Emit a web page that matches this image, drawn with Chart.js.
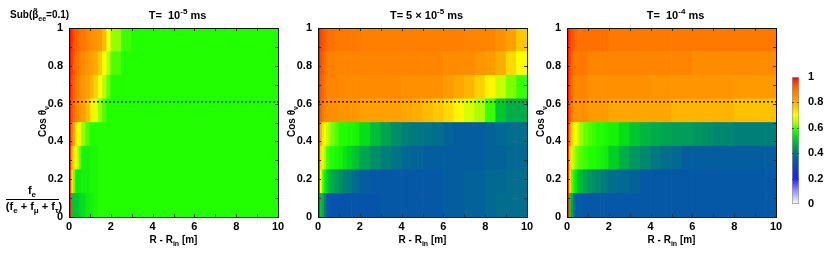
<!DOCTYPE html>
<html>
<head>
<meta charset="utf-8">
<script src="https://cdn.jsdelivr.net/npm/chart.js@4.4.1/dist/chart.umd.min.js"></script>
<style>
  body { margin: 0; background: #fff; }
  #wrap { position: relative; width: 830px; height: 256px; overflow: hidden; }
  canvas { position: absolute; top: 0; }
</style>
</head>
<body>
<div id="wrap">
  <canvas id="p1" width="290" height="256" style="left:0px"></canvas>
  <canvas id="p2" width="290" height="256" style="left:249px"></canvas>
  <canvas id="p3" width="290" height="256" style="left:498px"></canvas>
  <canvas id="cbar" width="50" height="256" style="left:780px"></canvas>
</div>
<script>
// R - R_in bin edges [m]
const rEdges = [0, 0.1, 0.2, 0.3, 0.4, 0.5, 0.6, 0.8, 1.0, 1.2, 1.4, 1.6, 1.8, 2.0,
  2.5, 3, 3.5, 4, 4.5, 5, 5.5, 6, 6.5, 7, 7.5, 8, 8.5, 9, 9.5, 10];
// cos theta bin centres, top row first
const cosMid = [0.9375, 0.8125, 0.6875, 0.5625, 0.4375, 0.3125, 0.1875, 0.0625];
const cutCos = 0.61;

const rep = (v, n) => Array(n).fill(v);

// f_e / (f_e + f_mu + f_tau), T = 1e-5 ms
const fracT1 = [
  [1.0, 0.96, 0.93, 0.92, 0.91, 0.90, 0.89, 0.87, 0.85, 0.84, 0.83, 0.78, 0.70, 0.63, 0.59, ...rep(0.58, 14)],
  [1.0, 0.95, 0.92, 0.90, 0.89, 0.88, 0.86, 0.84, 0.82, 0.80, 0.76, 0.70, 0.65, 0.60, ...rep(0.58, 15)],
  [1.0, 0.94, 0.91, 0.89, 0.88, 0.86, 0.84, 0.82, 0.79, 0.75, 0.70, 0.65, 0.61, ...rep(0.58, 16)],
  [1.0, 0.93, 0.90, 0.88, 0.86, 0.84, 0.82, 0.78, 0.72, 0.68, 0.63, 0.60, ...rep(0.58, 17)],
  [1.0, 0.88, 0.80, 0.72, 0.70, 0.68, 0.63, 0.60, ...rep(0.58, 21)],
  [1.0, 0.78, 0.72, 0.68, 0.64, 0.60, 0.56, 0.56, 0.57, 0.57, ...rep(0.58, 19)],
  [1.0, 0.70, 0.62, 0.55, 0.55, 0.55, 0.56, 0.56, 0.57, 0.57, ...rep(0.58, 19)],
  [1.0, 0.50, 0.50, 0.50, 0.50, 0.52, 0.53, 0.55, 0.56, 0.57, ...rep(0.58, 19)]
];

// T = 5e-5 ms
const fracT2 = [
  [1.0, 0.95, 0.93, 0.92, 0.91, 0.90, 0.90, 0.89, ...rep(0.89, 5), ...rep(0.88, 10), 0.87, 0.87, 0.87, 0.85, 0.82, 0.76],
  [1.0, 0.94, 0.92, 0.90, 0.89, 0.88, 0.88, 0.87, ...rep(0.87, 13), 0.86, 0.86, 0.86, 0.84, 0.83, 0.80, 0.74, 0.70],
  [1.0, 0.93, 0.91, 0.89, 0.88, 0.88, 0.87, 0.87, ...rep(0.86, 9), ...rep(0.85, 4), 0.83, 0.81, 0.79, 0.75, 0.71, 0.66, 0.62, 0.59],
  [1.0, 0.92, 0.89, 0.87, 0.86, 0.86, 0.85, 0.85, ...rep(0.84, 5), ...rep(0.82, 4), 0.81, 0.80, 0.78, 0.76, 0.74, 0.71, 0.67, 0.64, 0.59, 0.50, 0.47, 0.47],
  [1.0, 0.80, 0.73, 0.70, 0.66, 0.64, 0.62, 0.60, 0.58, 0.58, 0.57, 0.57, 0.56, 0.53, 0.49, 0.46, 0.43, 0.41, 0.40, 0.39, 0.38, 0.36, 0.35, 0.35, 0.35, 0.36, 0.37, 0.38, 0.38],
  [1.0, 0.74, 0.68, 0.64, 0.60, 0.59, 0.58, 0.57, 0.56, 0.54, 0.52, 0.50, 0.49, 0.46, 0.43, 0.41, 0.39, 0.37, 0.36, 0.35, 0.35, 0.35, 0.35, 0.35, 0.35, 0.36, 0.36, 0.37, 0.37],
  [1.0, 0.70, 0.60, 0.55, 0.52, 0.49, 0.47, 0.45, 0.43, 0.41, 0.40, 0.38, 0.37, 0.35, 0.34, 0.34, 0.34, 0.34, 0.34, 0.34, 0.34, 0.35, 0.35, 0.36, 0.36, 0.37, 0.37, 0.38, 0.38],
  [1.0, 0.50, 0.47, 0.40, 0.35, 0.33, 0.33, 0.33, 0.33, 0.33, 0.33, 0.33, 0.33, 0.33, 0.33, 0.34, 0.34, 0.34, 0.34, 0.34, 0.34, 0.35, 0.35, 0.36, 0.36, 0.37, 0.38, 0.38, 0.38]
];

// T = 1e-4 ms
const fracT3 = [
  [1.0, 0.95, 0.93, 0.92, 0.91, 0.90, 0.90, 0.90, 0.90, 0.90, 0.90, 0.90, 0.90, ...rep(0.89, 16)],
  [1.0, 0.94, 0.91, 0.89, 0.89, 0.89, 0.89, 0.89, ...rep(0.87, 13), ...rep(0.86, 8)],
  [1.0, 0.93, 0.90, 0.87, 0.87, 0.87, 0.87, 0.87, ...rep(0.85, 9), ...rep(0.84, 8), ...rep(0.83, 4)],
  [1.0, 0.92, 0.88, 0.85, 0.85, 0.85, 0.85, 0.85, ...rep(0.83, 5), ...rep(0.81, 6), ...rep(0.79, 6), ...rep(0.77, 4)],
  [1.0, 0.82, 0.74, 0.71, 0.69, 0.66, 0.63, 0.61, 0.60, 0.59, 0.58, 0.58, 0.57, 0.56, 0.53, 0.50, 0.48, 0.47, 0.46, 0.45, 0.45, 0.44, 0.43, 0.42, 0.42, 0.41, 0.41, 0.41, 0.41],
  [1.0, 0.72, 0.67, 0.64, 0.62, 0.61, 0.60, 0.59, 0.58, 0.58, 0.57, 0.56, 0.55, 0.51, 0.47, 0.44, 0.42, 0.40, 0.38, 0.37, ...rep(0.35, 9)],
  [1.0, 0.70, 0.60, 0.56, 0.54, 0.50, 0.48, 0.46, 0.44, 0.43, 0.42, 0.41, 0.40, 0.38, 0.37, 0.36, ...rep(0.34, 13)],
  [1.0, 0.52, 0.46, 0.38, ...rep(0.34, 25)]
];

// colour map (value, rgb)
const cmapStops = [
  [0.00, [255, 255, 255]], [0.10, [150, 150, 255]], [0.20, [30, 30, 255]],
  [0.27, [15, 60, 200]], [0.34, [5, 88, 165]], [0.40, [0, 120, 128]],
  [0.46, [0, 165, 80]], [0.52, [0, 215, 30]], [0.58, [34, 255, 0]],
  [0.64, [170, 255, 0]], [0.70, [255, 255, 0]], [0.76, [255, 200, 0]],
  [0.82, [255, 160, 0]], [0.88, [255, 128, 0]], [0.94, [255, 80, 0]],
  [1.00, [255, 0, 0]]
];

const FONT = '"Liberation Sans", Arial, sans-serif';
Chart.defaults.font.family = FONT;
Chart.defaults.color = '#000';

const tickFmt = v => String(Number(v.toFixed(2)));

function colorOf(v) {
  for (let i = 1; i < cmapStops.length; i++) {
    const [v1, c1] = cmapStops[i];
    const [v0, c0] = cmapStops[i - 1];
    if (v <= v1) {
      const t = (v - v0) / (v1 - v0);
      const c = c0.map((a, k) => Math.round(a + (c1[k] - a) * t));
      return `rgb(${c[0]},${c[1]},${c[2]})`;
    }
  }
  return 'rgb(255,0,0)';
}

function cells(grid) {
  const out = [];
  grid.forEach((row, j) => {
    row.forEach((v, i) => {
      out.push({x: [rEdges[i], rEdges[i + 1]], y: cosMid[j], v: v});
    });
  });
  return out;
}

// text with sub/superscripts: parts = [[text, 'n'|'sub'|'sup'], ...]
function drawRich(ctx, parts, x, y, size, align) {
  const fontFor = p => `bold ${p[1] === 'n' ? size : Math.round(size * 0.72)}px ${FONT}`;
  let w = 0;
  parts.forEach(p => { ctx.font = fontFor(p); w += ctx.measureText(p[0]).width; });
  let cx = align === 'center' ? x - w / 2 : (align === 'right' ? x - w : x);
  ctx.textAlign = 'left';
  ctx.textBaseline = 'alphabetic';
  ctx.fillStyle = '#000';
  parts.forEach(p => {
    ctx.font = fontFor(p);
    const dy = p[1] === 'sub' ? size * 0.3 : (p[1] === 'sup' ? -size * 0.42 : 0);
    ctx.fillText(p[0], cx, y + dy);
    cx += ctx.measureText(p[0]).width;
  });
}

const panelDeco = {
  id: 'panelDeco',
  afterDatasetsDraw(chart) {
    const {ctx, chartArea: a, scales: {x, y}} = chart;
    ctx.save();
    ctx.strokeStyle = '#333';
    ctx.lineWidth = 1;
    ctx.beginPath();
    for (let v = 0; v <= 10; v++) {
      const px = Math.round(x.getPixelForValue(v)) + 0.5;
      ctx.moveTo(px, a.top); ctx.lineTo(px, a.top + 3);
      ctx.moveTo(px, a.bottom); ctx.lineTo(px, a.bottom - 3);
    }
    for (let k = 0; k <= 10; k++) {
      const py = Math.round(y.getPixelForValue(k / 10)) + 0.5;
      ctx.moveTo(a.left, py); ctx.lineTo(a.left + 3, py);
      ctx.moveTo(a.right, py); ctx.lineTo(a.right - 3, py);
    }
    ctx.stroke();
    ctx.strokeStyle = '#111';
    ctx.strokeRect(Math.round(a.left) + 0.5, Math.round(a.top) + 0.5,
      Math.round(a.right - a.left), Math.round(a.bottom - a.top));
    ctx.restore();
  },
  afterDraw(chart, args, opts) {
    const {ctx, chartArea: a} = chart;
    ctx.save();
    const cx = (a.left + a.right) / 2 + 4;
    drawRich(ctx, opts.title, cx, 19, 11, 'center');
    drawRich(ctx, [['R - R', 'n'], ['in', 'sub'], [' [m]', 'n']], (a.left + a.right) / 2, 243, 10, 'center');
    ctx.save();
    ctx.translate(a.left - 27, (a.top + a.bottom) / 2 - 1);
    ctx.rotate(-Math.PI / 2);
    drawRich(ctx, [['Cos \u03b8', 'n'], ['\u03bd', 'sub']], 0, 3.5, 10, 'center');
    ctx.restore();
    if (opts.side) {
      drawRich(ctx, [['Sub(\u03b2\u0303', 'n'], ['ee', 'sub'], ['=0.1)', 'n']], 10, 18, 10, 'left');
      drawRich(ctx, [['f', 'n'], ['e', 'sub']], 32, 194, 11, 'center');
      ctx.strokeStyle = '#000';
      ctx.lineWidth = 1;
      ctx.beginPath();
      ctx.moveTo(6, 199.5); ctx.lineTo(59, 199.5);
      ctx.stroke();
      drawRich(ctx, [['(f', 'n'], ['e', 'sub'], [' + f', 'n'], ['\u03bc', 'sub'], [' + f', 'n'], ['\u03c4', 'sub'], [')', 'n']], 34, 210, 11, 'center');
    }
    ctx.restore();
  }
};

function makePanel(id, grid, title, side) {
  new Chart(document.getElementById(id), {
    type: 'bar',
    data: {
      datasets: [
        {
          type: 'line',
          indexAxis: 'x',
          data: [{x: 0, y: cutCos}, {x: 10, y: cutCos}],
          borderColor: '#111',
          borderWidth: 1.6,
          borderDash: [2, 2],
          pointRadius: 0,
          order: 0
        },
        {
          type: 'bar',
          indexAxis: 'y',
          data: cells(grid),
          backgroundColor: c => (c.raw ? colorOf(c.raw.v) : '#000'),
          borderWidth: 0,
          barPercentage: 1,
          categoryPercentage: 1,
          order: 1
        }
      ]
    },
    options: {
      responsive: false,
      animation: false,
      events: [],
      layout: {padding: {left: 29, right: 12, top: 28, bottom: 9}},
      plugins: {
        legend: {display: false},
        tooltip: {enabled: false},
        panelDeco: {title: title, side: side}
      },
      scales: {
        x: {
          type: 'linear', min: 0, max: 10, offset: false,
          grid: {display: false, drawTicks: false, offset: false},
          border: {display: false},
          ticks: {stepSize: 2, padding: 3, font: {size: 11, weight: 'bold'}, maxRotation: 0, callback: tickFmt},
          afterFit: s => { s.height = 30; }
        },
        y: {
          type: 'linear', min: 0, max: 1, offset: false,
          grid: {display: false, drawTicks: false, offset: false},
          border: {display: false},
          ticks: {stepSize: 0.2, padding: 6, font: {size: 11, weight: 'bold'}, callback: tickFmt},
          afterFit: s => { s.width = 40; }
        }
      }
    },
    plugins: [panelDeco]
  });
}

makePanel('p1', fracT1, [['T=  10', 'n'], ['-5', 'sup'], [' ms', 'n']], true);
makePanel('p2', fracT2, [['T= 5 \u00d7 10', 'n'], ['-5', 'sup'], [' ms', 'n']], false);
makePanel('p3', fracT3, [['T=  10', 'n'], ['-4', 'sup'], [' ms', 'n']], false);

const barTicks = {
  id: 'barTicks',
  afterDatasetsDraw(chart) {
    const {ctx, chartArea: a, scales: {y}} = chart;
    ctx.save();
    ctx.strokeStyle = '#444';
    ctx.lineWidth = 1;
    ctx.beginPath();
    for (let k = 1; k < 5; k++) {
      const py = Math.round(y.getPixelForValue(k / 5)) + 0.5;
      ctx.moveTo(a.left, py); ctx.lineTo(a.left + 2, py);
      ctx.moveTo(a.right, py); ctx.lineTo(a.right - 2, py);
    }
    ctx.stroke();
    ctx.restore();
  }
};

new Chart(document.getElementById('cbar'), {
  type: 'bar',
  data: {
    labels: [''],
    datasets: [{
      data: [[0, 1]],
      backgroundColor: c => {
        const ch = c.chart;
        if (!ch.chartArea) return '#fff';
        const y = ch.scales.y;
        const g = ch.ctx.createLinearGradient(0, y.getPixelForValue(0), 0, y.getPixelForValue(1));
        cmapStops.forEach(s => g.addColorStop(s[0], colorOf(s[0])));
        return g;
      },
      borderColor: '#999',
      borderWidth: 1,
      borderSkipped: false,
      barPercentage: 1,
      categoryPercentage: 1
    }]
  },
  options: {
    responsive: false,
    animation: false,
    events: [],
    layout: {padding: {left: 12, right: 0, top: 77, bottom: 52}},
    plugins: {legend: {display: false}, tooltip: {enabled: false}},
    scales: {
      x: {display: false},
      y: {
        position: 'right', min: 0, max: 1,
        grid: {display: false, drawTicks: false},
        border: {display: false},
        ticks: {stepSize: 0.2, padding: 9, font: {size: 11, weight: 'bold'}, callback: tickFmt},
        afterFit: s => { s.width = 31; }
      }
    }
  },
  plugins: [barTicks]
});
</script>
</body>
</html>
